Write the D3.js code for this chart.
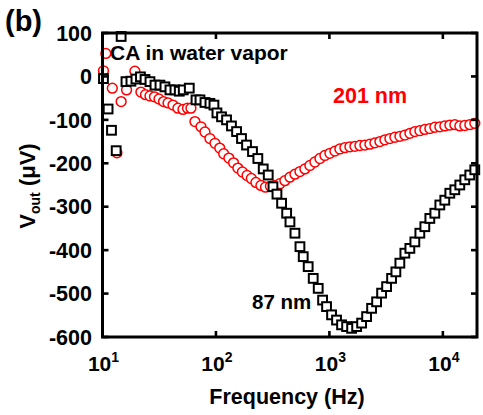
<!DOCTYPE html>
<html>
<head>
<meta charset="utf-8">
<script src="https://cdn.jsdelivr.net/npm/d3@7"></script>
<style>
  html, body { margin: 0; padding: 0; background: #fff; }
  svg { display: block; }
  text { font-family: Arial, "Liberation Sans", sans-serif; font-weight: bold; }
</style>
</head>
<body>
<svg id="chart" width="483" height="415"></svg>
<script>
// Output voltage vs. frequency, CA in water vapor, two film thicknesses
const freq87 = [10.2, 11.2, 12.0, 13.2, 14.6, 16.1, 17.8, 19.7, 21.6, 23.7, 26.2, 29.0, 32.1, 35.5, 39.3,
  43.5, 47.5, 51.5, 58.2, 66.7, 72.3, 80.0, 88.5, 96.0, 102, 112, 124, 137, 152, 168, 186, 210, 234,
  261, 289, 318, 345, 379, 420, 449, 497, 550, 588, 650, 720, 797, 871, 944, 1045, 1156, 1280, 1418,
  1570, 1738, 1923, 2128, 2355, 2607, 2885, 3193, 3533, 3855, 4179, 4625, 5119, 5665, 6269, 6938,
  7678, 8497, 9404, 10407, 11517, 12746, 14106, 15610, 17275, 19118];
const vout87 = [-5, -75, -124, -171, 92, -12, -11, -6, -1, -7, -12, -20, -20, -24, -31,
  -31, -34, -31, -27, -54, -54, -60, -62, -66, -84, -93, -100, -114, -127, -143, -158, -173, -189,
  -213, -227, -254, -271, -292, -315, -335, -361, -392, -415, -438, -465, -488, -515, -530, -549, -561, -572, -576,
  -580, -576, -568, -553, -534, -519, -499, -484, -465, -450, -430, -407, -396, -381, -361, -346,
  -327, -315, -296, -285, -269, -261, -250, -238, -227, -215];

const freq201 = [10.2, 10.7, 12.2, 13.4, 14.6, 16.3, 19.3, 21.8, 23.9, 26.2, 28.7, 31.5, 34.5, 37.8, 41.8,
  46.2, 51.2, 56.1, 60.2, 65.3, 73.8, 80.0, 88.5, 98.0, 108, 117, 130, 143, 156, 171, 188, 205, 225,
  249, 273, 302, 331, 366, 405, 449, 497, 550, 608, 673, 745, 825, 913, 1010, 1118, 1237, 1370, 1516,
  1678, 1857, 2055, 2275, 2518, 2787, 3084, 3413, 3778, 4181, 4627, 5121, 5668, 6273, 6942, 7683,
  8503, 9410, 10415, 11526, 12756, 14118, 15624, 17292, 19137];
const vout201 = [13, 53, -27, -176, -58, -31, 12, -36, -42, -45, -47, -52, -58, -61, -66,
  -73, -76, -73, -73, -104, -116, -128, -143, -154, -165, -178, -188, -199, -211, -220, -228, -235, -244,
  -251, -255, -253, -251, -247, -240, -232, -225, -219, -213, -205, -197, -189, -182, -177, -172, -167, -164, -162,
  -161, -159, -158, -156, -153, -150, -146, -143, -140, -138, -135, -131, -127, -125, -122, -120,
  -117, -116, -114, -112, -111, -114, -113, -111, -108];

const xTickValues = [10, 100, 1000, 10000];
const xTickExponents = ["1", "2", "3", "4"];
const yTickValues = [100, 0, -100, -200, -300, -400, -500, -600];

const svg = d3.select("#chart");
const plotLeft = 102.5, plotRight = 477, plotTop = 33, plotBottom = 337;

const x = d3.scaleLog().domain([10, 20000]).range([plotLeft, plotRight]);
const y = d3.scaleLinear().domain([-600, 100]).range([plotBottom, plotTop]);

// 201 nm: red open circles
svg.append("g").selectAll("circle")
  .data(d3.zip(freq201, vout201))
  .join("circle")
  .attr("cx", d => x(d[0]))
  .attr("cy", d => y(d[1]))
  .attr("r", 4.9)
  .attr("fill", "#fff")
  .attr("stroke", "#ff0000")
  .attr("stroke-width", 1.5);

// 87 nm: black open squares
const sq = 8.8;
svg.append("g").selectAll("rect")
  .data(d3.zip(freq87, vout87))
  .join("rect")
  .attr("x", d => x(d[0]) - sq / 2)
  .attr("y", d => y(d[1]) - sq / 2)
  .attr("width", sq)
  .attr("height", sq)
  .attr("fill", "#fff")
  .attr("stroke", "#000")
  .attr("stroke-width", 2);

// inward ticks on all four sides
const tickLen = 6;
const axes = svg.append("g").attr("stroke", "#000").attr("stroke-width", 2.6);
axes.selectAll("line.xb").data(xTickValues).join("line").attr("class", "xb")
  .attr("x1", d => x(d)).attr("x2", d => x(d)).attr("y1", plotBottom).attr("y2", plotBottom - tickLen);
axes.selectAll("line.xt").data(xTickValues).join("line").attr("class", "xt")
  .attr("x1", d => x(d)).attr("x2", d => x(d)).attr("y1", plotTop).attr("y2", plotTop + tickLen);
axes.selectAll("line.yl").data(yTickValues).join("line").attr("class", "yl")
  .attr("y1", d => y(d)).attr("y2", d => y(d)).attr("x1", plotLeft).attr("x2", plotLeft + tickLen);
axes.selectAll("line.yr").data(yTickValues).join("line").attr("class", "yr")
  .attr("y1", d => y(d)).attr("y2", d => y(d)).attr("x1", plotRight).attr("x2", plotRight - tickLen);

// frame
svg.append("rect")
  .attr("x", plotLeft).attr("y", plotTop)
  .attr("width", plotRight - plotLeft).attr("height", plotBottom - plotTop)
  .attr("fill", "none").attr("stroke", "#000").attr("stroke-width", 3);

// y tick labels
svg.append("g").selectAll("text")
  .data(yTickValues)
  .join("text")
  .attr("x", 92)
  .attr("y", d => y(d))
  .attr("dy", "0.36em")
  .attr("text-anchor", "end")
  .attr("font-size", 21.5)
  .text(d => d);

// x tick labels: 10 with superscript exponent
const xl = svg.append("g").selectAll("text")
  .data(xTickValues)
  .join("text")
  .attr("x", d => x(d) + 1)
  .attr("y", 371)
  .attr("text-anchor", "middle")
  .attr("font-size", 21);
xl.append("tspan").text("10");
xl.append("tspan").attr("font-size", 14).attr("dy", -9).text((d, i) => xTickExponents[i]);

// axis titles
svg.append("text")
  .attr("x", 287).attr("y", 404)
  .attr("text-anchor", "middle")
  .attr("font-size", 21.5)
  .text("Frequency (Hz)");

const yt = svg.append("text")
  .attr("transform", "translate(35,186) rotate(-90)")
  .attr("text-anchor", "middle")
  .attr("font-size", 22);
yt.append("tspan").text("V");
yt.append("tspan").attr("font-size", 14).attr("dy", 5).text("out");
yt.append("tspan").attr("dy", -5).text(" (μV)");

// annotations
svg.append("text").attr("x", 5).attr("y", 31).attr("font-size", 29).text("(b)");
svg.append("text").attr("x", 110).attr("y", 60).attr("font-size", 21).text("CA in water vapor");
svg.append("text").attr("x", 333).attr("y", 103).attr("font-size", 21.5).attr("fill", "#ff0000").text("201 nm");
svg.append("text").attr("x", 252).attr("y", 309).attr("font-size", 20.5).text("87 nm");
</script>
</body>
</html>
